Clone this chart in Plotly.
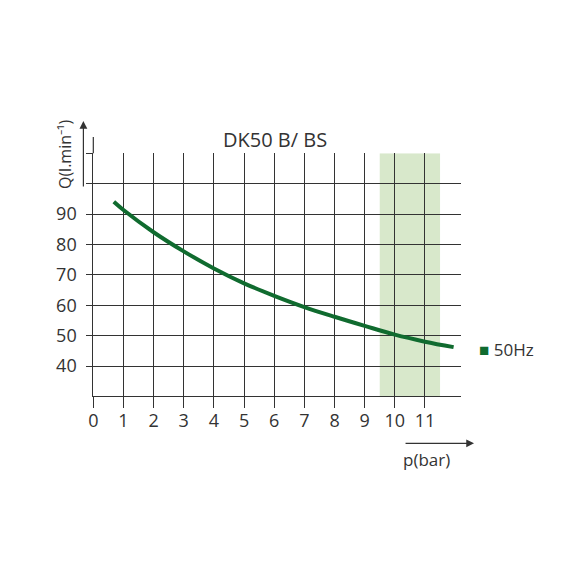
import plotly.graph_objects as go

# Data
pressure_bar = [0.68, 1, 2, 3, 4, 5, 6, 7, 8, 9, 10, 11, 11.95]
flow_lmin = [94.0, 91.3, 84.0, 77.7, 72.1, 67.2, 63.1, 59.4, 56.2, 53.2, 50.3, 48.0, 46.2]
x_ticks = list(range(0, 12))
y_ticks = [40, 50, 60, 70, 80, 90, 100, 110]
y_tick_labels = ["40", "50", "60", "70", "80", "90", "", ""]
band_range = [9.5, 11.5]
title_text = "DK50 B/ BS"
legend_text = "50Hz"

GREEN = "#106b2f"
GRID = "#333333"
TXT = "#333333"
FONT = "Open Sans"

W = H = 588
OFFX = 11  # page offset (horizontal)
OFFY = 8   # page offset (vertical)


def px(x):
    return (x - OFFX) / W


def py(y):
    return (H - (y - OFFY)) / H


xd = [px(92), px(463)]
yd = [py(396.4), py(153.2)]

fig = go.Figure()
fig.add_trace(go.Scatter(
    x=pressure_bar, y=flow_lmin, mode="lines",
    line=dict(color=GREEN, width=4, shape="spline"),
    showlegend=False, hoverinfo="skip"))

fig.add_shape(type="rect", xref="x", yref="y", x0=band_range[0], x1=band_range[1],
              y0=30, y1=110, fillcolor="#d8e8cb", line=dict(width=0), layer="below")
# left axis extension above the grid
fig.add_shape(type="line", xref="paper", yref="paper", x0=xd[0], x1=xd[0],
              y0=yd[1], y1=py(137), line=dict(color=GRID, width=1.2))

# y-axis arrow + label
fig.add_annotation(xref="paper", yref="paper", x=px(82), y=py(121),
                   ax=0, ay=67, axref="pixel", ayref="pixel",
                   showarrow=True, arrowhead=2, arrowsize=1.3, arrowwidth=1.2,
                   arrowcolor=GRID, text="")
fig.add_annotation(xref="paper", yref="paper", x=px(64), y=py(154.5),
                   xanchor="center", yanchor="middle",
                   text="Q(l.min⁻¹)", textangle=-90, showarrow=False,
                   font=dict(family=FONT, size=16, color=TXT))
# x-axis arrow + label
fig.add_annotation(xref="paper", yref="paper", x=px(476), y=py(443.3),
                   ax=-70, ay=0, axref="pixel", ayref="pixel",
                   showarrow=True, arrowhead=2, arrowsize=1.3, arrowwidth=1.2,
                   arrowcolor=GRID, text="")
fig.add_annotation(xref="paper", yref="paper", x=px(428), y=py(459),
                   xanchor="center", yanchor="middle",
                   text="p(bar)", showarrow=False,
                   font=dict(family=FONT, size=17, color=TXT))
# title
fig.add_annotation(xref="paper", yref="paper", x=px(275.5), y=py(139.5),
                   xanchor="center", yanchor="middle",
                   text=title_text, showarrow=False,
                   font=dict(family=FONT, size=20, color=TXT))
# legend
fig.add_annotation(xref="paper", yref="paper", x=px(479), y=py(349.5),
                   xanchor="left", yanchor="middle",
                   text="<span style='color:%s'>■</span> %s" % (GREEN, legend_text),
                   showarrow=False, font=dict(family=FONT, size=17, color=TXT))

fig.update_layout(
    width=W, height=H, margin=dict(l=0, r=0, t=0, b=0),
    paper_bgcolor="white", plot_bgcolor="rgba(0,0,0,0)",
    xaxis=dict(domain=xd, range=[0, 12.2], tickvals=x_ticks, ticks="outside",
               ticklen=11, tickcolor=GRID, tickwidth=1, showgrid=True, gridcolor=GRID,
               gridwidth=1, showline=True, linecolor=GRID, linewidth=1, zeroline=False,
               tickfont=dict(family=FONT, size=18, color=TXT), ticklabelstandoff=-3,
               fixedrange=True),
    yaxis=dict(domain=yd, range=[30, 110], tickvals=y_ticks, ticktext=y_tick_labels,
               ticks="outside", ticklen=6, tickcolor=GRID, tickwidth=1, showgrid=True,
               gridcolor=GRID, gridwidth=1, showline=True, linecolor=GRID, linewidth=1,
               zeroline=False, tickfont=dict(family=FONT, size=18, color=TXT),
               ticklabelstandoff=6, fixedrange=True),
)
fig.write_html("out.html")
